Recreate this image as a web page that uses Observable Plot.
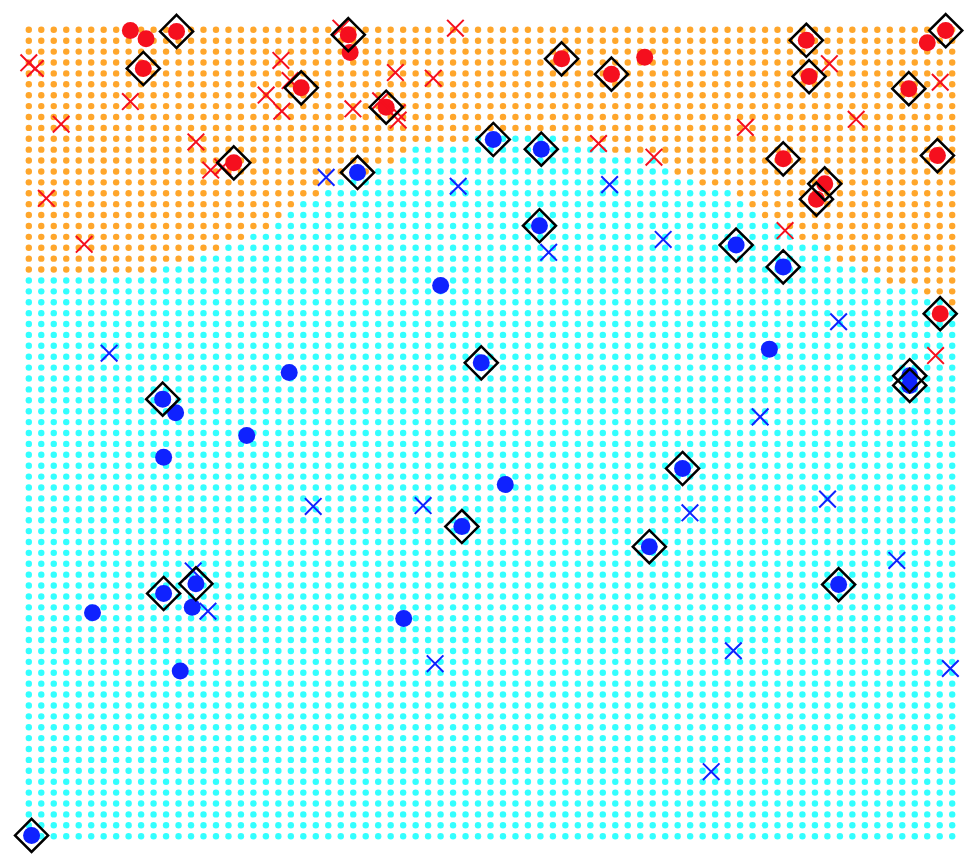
<!DOCTYPE html>
<html><head><meta charset="utf-8">
<script src="https://cdn.jsdelivr.net/npm/d3@7"></script>
<script src="https://cdn.jsdelivr.net/npm/@observablehq/plot@0.6"></script>
<style>html,body{margin:0;padding:0;background:#fff;} #chart svg{display:block}</style>
</head><body><div id="chart"></div>
<script>
// Decision-surface mesh: 75 x 75 grid over [0,10] x [0,10]
const gridCols = 75, gridRows = 75;
const domainX = [0, 10], domainY = [0, 10];
// number of rows (from the top) predicted as class 0 (orange) in each grid column
const orangeRowsPerColumn = [23,23,23,23,23,23,23,23,23,23,23,22,22,22,21,21,20,20,19,19,
  18,17,16,16,15,14,14,14,13,13,12,11,11,11,11,11,10,10,10,10,10,10,10,11,11,11,11,
  12,12,12,12,13,14,14,15,15,15,16,17,18,18,19,20,20,21,22,22,23,23,24,24,24,25,25,26];

// training points, class 0 (red): [x, y, isSupportVector]
const trainRed = [
  [1.10,9.99,0],[1.27,9.89,0],[1.60,9.98,1],[1.24,9.52,1],[3.46,9.94,1],[3.48,9.72,0],
  [2.95,9.28,1],[3.87,9.04,1],[2.22,8.35,1],[5.77,9.64,1],[6.31,9.45,1],[6.67,9.66,0],
  [8.42,9.87,1],[8.45,9.42,1],[9.73,9.84,0],[9.93,9.99,1],[9.53,9.27,1],[8.17,8.40,1],
  [9.84,8.44,1],[8.62,8.09,1],[8.53,7.90,1],[9.87,6.48,1]
];
// training points, class 1 (blue): [x, y, isSupportVector]
const trainBlue = [
  [5.03,8.64,1],[5.55,8.52,1],[3.56,8.23,1],[5.53,7.57,1],[7.66,7.33,1],[8.17,7.06,1],
  [4.46,6.83,0],[4.90,5.87,1],[2.82,5.75,0],[1.45,5.42,1],[1.59,5.25,0],[2.36,4.97,0],
  [1.46,4.70,0],[8.02,6.04,0],[9.54,5.71,1],[9.54,5.59,1],[7.08,4.56,1],[5.16,4.36,0],
  [4.69,3.84,1],[6.72,3.59,1],[1.46,3.01,1],[1.81,3.13,1],[1.77,2.84,0],[0.69,2.77,0],
  [4.06,2.70,0],[1.64,2.05,0],[8.77,3.12,1],[0.03,0.01,1]
];
// test points, class 0 (red)
const testRed = [
  [0.00,9.59],[0.07,9.52],[1.10,9.11],[0.35,8.83],[0.19,7.91],[0.60,7.34],[1.81,8.61],
  [1.97,8.26],[2.10,8.30],[2.73,9.62],[2.57,9.19],[2.74,8.99],[2.83,9.37],[3.38,10.02],
  [3.51,9.02],[3.97,9.47],[4.38,9.40],[4.62,10.02],[3.81,9.12],[3.99,8.97],[4.00,8.88],
  [6.17,8.59],[6.77,8.42],[7.76,8.79],[8.67,9.58],[8.96,8.89],[9.87,9.35],[8.19,7.51],
  [9.82,5.96]
];
// test points, class 1 (blue)
const testBlue = [
  [3.22,8.17],[4.65,8.06],[6.29,8.08],[5.63,7.24],[6.87,7.40],[8.77,6.38],[0.87,5.99],
  [7.92,5.20],[3.08,4.09],[4.27,4.10],[7.16,4.01],[8.65,4.18],[9.40,3.42],[1.78,3.29],
  [1.94,2.79],[4.40,2.14],[7.63,2.30],[9.98,2.08],[7.39,0.80]
];

const colors = {meshA: "#ffa62b", meshB: "#33ffff", red: "#f50f1e", blue: "#0f22ff"};

const mesh = [];
for (let i = 0; i < gridCols; i++) {
  for (let j = 0; j < gridRows; j++) {
    mesh.push({
      x: domainX[0] + i * (domainX[1] - domainX[0]) / (gridCols - 1),
      y: domainY[1] - j * (domainY[1] - domainY[0]) / (gridRows - 1),
      c: j < orangeRowsPerColumn[i] ? colors.meshA : colors.meshB
    });
  }
}
const train = [
  ...trainRed.map(([x, y, sv]) => ({x, y, sv, c: colors.red})),
  ...trainBlue.map(([x, y, sv]) => ({x, y, sv, c: colors.blue}))
];
const test = [
  ...testRed.map(([x, y]) => ({x, y, c: colors.red})),
  ...testBlue.map(([x, y]) => ({x, y, c: colors.blue}))
];

const chart = Plot.plot({
  width: 976, height: 860,
  marginLeft: 28.3, marginRight: 24.3, marginTop: 29.3, marginBottom: 24.3,
  x: {domain: domainX, axis: null},
  y: {domain: domainY, axis: null},
  color: {type: "identity"},
  marks: [
    Plot.dot(mesh, {x: "x", y: "y", r: 3.2, fill: "c", stroke: null}),
    Plot.dot(train, {x: "x", y: "y", r: 8.5, fill: "c", stroke: null}),
    Plot.dot(test, {x: "x", y: "y", symbol: "times", r: 7.6, stroke: "c", strokeWidth: 2}),
    Plot.dot(train.filter(d => d.sv), {x: "x", y: "y", symbol: "diamond2", r: 14.9, fill: "none", stroke: "black", strokeWidth: 2.5})
  ]
});
document.getElementById("chart").appendChild(chart);
</script>
</body></html>
